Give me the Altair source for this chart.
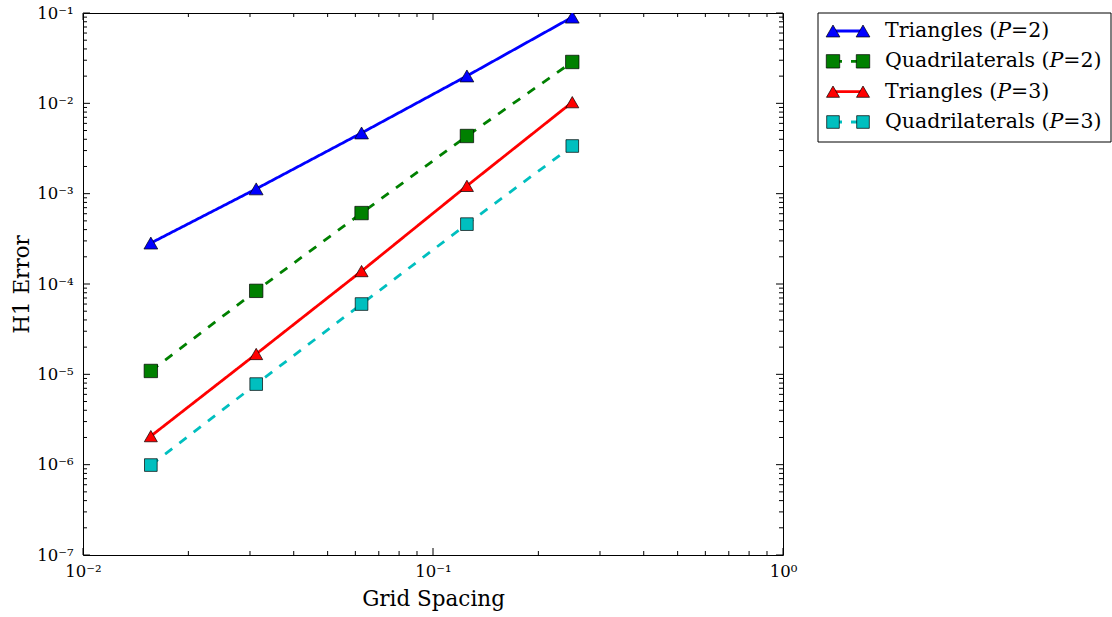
import altair as alt
import pandas as pd
import numpy as np

# ---- data ----
h = [1/64, 1/32, 1/16, 1/8, 1/4]
series = ["Triangles (𝑃=2)", "Quadrilaterals (𝑃=2)", "Triangles (𝑃=3)", "Quadrilaterals (𝑃=3)"]
tri_p2 = [2.84e-4, 1.13e-3, 4.7e-3, 2.01e-2, 9.0e-2]
quad_p2 = [1.09e-5, 8.4e-5, 6.1e-4, 4.35e-3, 2.87e-2]
tri_p3 = [2.07e-6, 1.68e-5, 1.39e-4, 1.22e-3, 1.03e-2]
quad_p3 = [9.9e-7, 7.8e-6, 6.0e-5, 4.6e-4, 3.37e-3]
colors = ["#0000ff", "#008000", "#ff0000", "#00bfbf"]
shapes = ["triangle-up", "square", "triangle-up", "square"]
dashes = [[1, 0], [9, 9], [1, 0], [9, 9]]
sizes = [190, 160, 190, 160]
x_ticks = [0.01, 0.1, 1.0]
y_ticks = [1e-7, 1e-6, 1e-5, 1e-4, 1e-3, 1e-2, 1e-1]

W, H = 700, 542
FONT = "DejaVu Serif"

rows = []
for name, vals in zip(series, [tri_p2, quad_p2, tri_p3, quad_p3]):
    for xv, yv in zip(h, vals):
        rows.append({"series": name, "h": xv, "err": yv})
df = pd.DataFrame(rows)

xscale = alt.Scale(type="log", domain=[0.01, 1.0])
yscale = alt.Scale(type="log", domain=[1e-7, 1e-1])
color = alt.Color("series:N", scale=alt.Scale(domain=series, range=colors), legend=None)
dash = alt.StrokeDash("series:N", scale=alt.Scale(domain=series, range=dashes), legend=None)
shape = alt.Shape("series:N", scale=alt.Scale(domain=series, range=shapes), legend=None)
size = alt.Size("series:N", scale=alt.Scale(domain=series, range=sizes), legend=None)

sup = "['⁻⁷','⁻⁶','⁻⁵','⁻⁴','⁻³','⁻²','⁻¹','⁰']"
lab_expr = "'10' + " + sup + "[round(log(datum.value)/LN10) + 7]"

xaxis = alt.Axis(values=x_ticks, labelExpr=lab_expr, ticks=False, domain=False, grid=False,
                 labelFontSize=16.5, labelPadding=8, labelFlush=False, labelColor="black",
                 title="Grid Spacing", titleFontSize=21.5, titleFontWeight="normal",
                 titleColor="black", titlePadding=9, labelFont=FONT, titleFont=FONT)
yaxis = alt.Axis(values=y_ticks, labelExpr=lab_expr, ticks=False, domain=False, grid=False,
                 labelFontSize=16.5, labelPadding=10, labelFlush=False, labelColor="black",
                 title="H1 Error", titleFontSize=21.5, titleFontWeight="normal",
                 titleColor="black", titlePadding=3, labelFont=FONT, titleFont=FONT)

base = alt.Chart(df)
lines = base.mark_line(strokeWidth=2.8, clip=True).encode(
    x=alt.X("h:Q", scale=xscale, axis=xaxis),
    y=alt.Y("err:Q", scale=yscale, axis=yaxis),
    color=color, strokeDash=dash, detail="series:N")
points = base.mark_point(filled=True, stroke="black", strokeWidth=0.7, opacity=1, clip=True).encode(
    x=alt.X("h:Q", scale=xscale),
    y=alt.Y("err:Q", scale=yscale),
    fill=alt.Fill("series:N", scale=alt.Scale(domain=series, range=colors), legend=None),
    shape=shape, size=size)

# inward ticks on all four sides
def minor(lo, hi):
    return [k * 10.0 ** e for e in range(lo, hi) for k in range(2, 10)]

x_minor = minor(-2, 0)
y_minor = minor(-7, -1)

def vticks(vals, length, top):
    d = pd.DataFrame({"v": vals})
    y0, y1 = (0, length) if top else (H - length, H)
    return alt.Chart(d).mark_rule(color="black", strokeWidth=1).encode(
        x=alt.X("v:Q", scale=xscale), y=alt.value(y0), y2=alt.value(y1))

def hticks(vals, length, right):
    d = pd.DataFrame({"v": vals})
    x0, x1 = (W - length, W) if right else (0, length)
    return alt.Chart(d).mark_rule(color="black", strokeWidth=1).encode(
        y=alt.Y("v:Q", scale=yscale), x=alt.value(x0), x2=alt.value(x1))

tick_layers = [
    vticks(x_ticks, 7, False), vticks(x_ticks, 7, True),
    vticks(x_minor, 4, False), vticks(x_minor, 4, True),
    hticks(y_ticks, 7, False), hticks(y_ticks, 7, True),
    hticks(y_minor, 4, False), hticks(y_minor, 4, True),
]

main = alt.layer(lines, points, *tick_layers)

# legend drawn as marks
leg_df = pd.DataFrame({"series": series})
ly = alt.Y("series:N", scale=alt.Scale(type="point", domain=series, range=[18, 109], padding=0), axis=None)
box = alt.Chart(alt.Data(values=[{"a": 1}])).mark_rect(fill="white", stroke="black", strokeWidth=1).encode(
    x=alt.value(735), x2=alt.value(1028), y=alt.value(0), y2=alt.value(129))
leg_lines = alt.Chart(leg_df).mark_rule(strokeWidth=2.8).encode(
    x=alt.value(750), x2=alt.value(780), y=ly,
    color=alt.Color("series:N", scale=alt.Scale(domain=series, range=colors), legend=None),
    strokeDash=alt.StrokeDash("series:N", scale=alt.Scale(domain=series, range=dashes), legend=None))
leg_pts = []
for px in (750, 780):
    leg_pts.append(alt.Chart(leg_df).mark_point(filled=True, stroke="black", strokeWidth=0.7, opacity=1).encode(
        x=alt.value(px), y=ly,
        fill=alt.Fill("series:N", scale=alt.Scale(domain=series, range=colors), legend=None),
        shape=alt.Shape("series:N", scale=alt.Scale(domain=series, range=shapes), legend=None),
        size=alt.Size("series:N", scale=alt.Scale(domain=series, range=sizes), legend=None)))
leg_text = alt.Chart(leg_df).mark_text(align="left", baseline="middle", font=FONT, fontSize=20.5,
                                       color="black").encode(
    x=alt.value(802), y=ly, text="series:N")
legend = alt.layer(box, leg_lines, *leg_pts, leg_text)

chart = alt.layer(main, legend).resolve_scale(
    x="independent", y="independent", color="independent", fill="independent",
    shape="independent", strokeDash="independent", size="independent"
).properties(
    width=W, height=H,
    autosize=alt.AutoSizeParams(type="none"),
    padding={"left": 83, "top": 13, "right": 329, "bottom": 62},
    background="white",
).configure(font=FONT).configure_view(stroke="black", strokeWidth=1)

chart.save("out.html", embed_options={"renderer": "svg", "actions": False})
